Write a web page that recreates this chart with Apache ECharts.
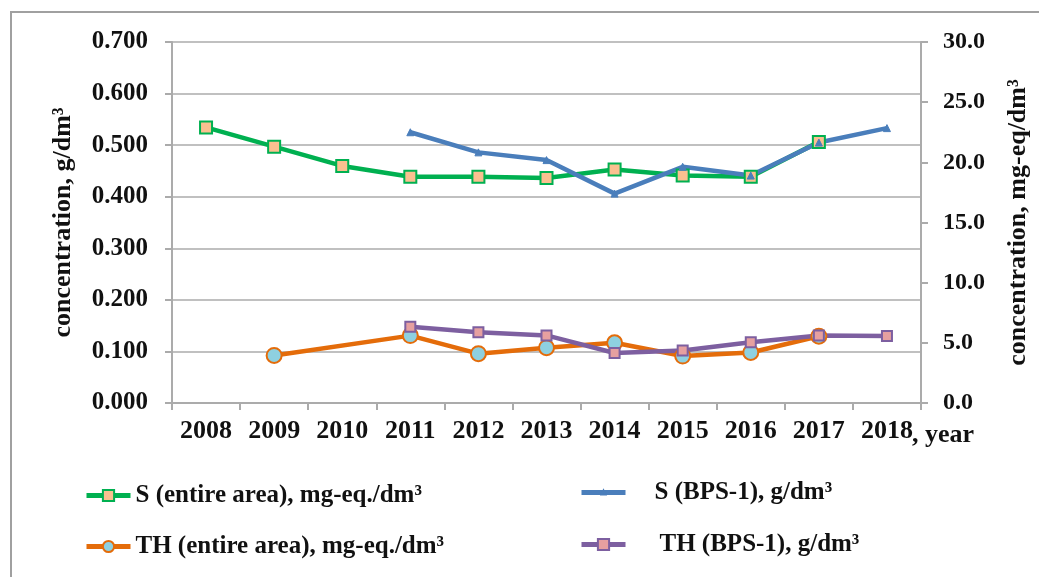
<!DOCTYPE html>
<html>
  <head>
    <meta charset="utf-8" />
    <style>
        body {margin: 0; background: #fff;}
        #chart {width: 1039px; height: 577px;}
    </style>
    <script src="https://cdn.jsdelivr.net/npm/echarts@6/dist/echarts.min.js"></script>
  </head>
  <body>
    <div id="chart"></div>

    <script type="text/javascript">
         var years = ['2008', '2009', '2010', '2011', '2012', '2013', '2014', '2015', '2016', '2017', '2018'];
         // entire area, mg-eq./dm3 (right axis)
         var sEntire  = [22.9, 21.3, 19.7, 18.8, 18.8, 18.7, 19.4, 18.9, 18.8, 21.7, null];
         var thEntire = [null, 3.95, null, 5.6, 4.1, 4.6, 5.0, 3.9, 4.2, 5.55, null];
         // BPS-1, g/dm3 (left axis)
         var sBps  = [null, null, null, 0.525, 0.486, 0.471, 0.406, 0.458, 0.441, 0.505, 0.533];
         var thBps = [null, null, null, 0.148, 0.137, 0.131, 0.097, 0.102, 0.118, 0.131, 0.130];

         var serif = '"Liberation Serif", "DejaVu Serif", serif';
         var gridGray = '#ABABAB';

         var chart = echarts.init(document.getElementById('chart'));

         function legendAt(name, left, top, gap, iconH) {
            return {
              data: [name],
              left: left, top: top,
              padding: 0,
              itemWidth: 44, itemHeight: iconH,
              lineStyle: {width: 5},
              textStyle: {fontFamily: serif, fontWeight: 'bold', fontSize: 25, color: '#111', padding: [0, 0, 0, gap]}
            };
         }

         var option = {
           animation: false,
           graphic: [
             { type: 'rect', shape: {x: 11, y: 12, width: 1200, height: 800},
               style: {fill: 'none', stroke: '#A0A0A0', lineWidth: 2} },
             { type: 'text', left: 912, top: 422,
               style: {text: ', year', font: 'bold 26px ' + serif, fill: '#111'} }
           ],
           legend: [
             legendAt('S (entire area), mg-eq./dm³', 84, 483, 0, 14),
             legendAt('TH (entire area), mg-eq./dm³', 84, 534, 0, 14),
             legendAt('S (BPS-1), g/dm³', 579, 480, 24, 5),
             legendAt('TH (BPS-1), g/dm³', 579, 532, 29, 14)
           ],
           grid: {left: 172, right: 118, top: 42, bottom: 174},
           xAxis: {
             type: 'category',
             data: years,
             boundaryGap: true,
             axisLine: {lineStyle: {color: gridGray, width: 2}},
             axisTick: {show: true, length: 7, lineStyle: {color: gridGray, width: 2}},
             axisLabel: {fontFamily: serif, fontWeight: 'bold', fontSize: 26, color: '#111', margin: 15}
           },
           yAxis: [
             { type: 'value', min: 0, max: 0.7, interval: 0.1, position: 'left',
               name: 'concentration, g/dm³', nameLocation: 'middle', nameRotate: 90, nameGap: 96,
               nameTextStyle: {fontFamily: serif, fontWeight: 'bold', fontSize: 26, color: '#111'},
               axisLine: {show: true, lineStyle: {color: gridGray, width: 2}},
               axisTick: {show: true, length: 7, lineStyle: {color: gridGray, width: 2}},
               splitLine: {lineStyle: {color: gridGray, width: 1.5}},
               axisLabel: {fontFamily: serif, fontWeight: 'bold', fontSize: 25, color: '#111', margin: 24,
                           formatter: function (v) { return v.toFixed(3); }}
             },
             { type: 'value', min: 0, max: 30, interval: 5, position: 'right',
               name: 'concentration, mg-eq/dm³', nameLocation: 'middle', nameRotate: 90, nameGap: 84,
               nameTextStyle: {fontFamily: serif, fontWeight: 'bold', fontSize: 26, color: '#111'},
               axisLine: {show: true, lineStyle: {color: gridGray, width: 2}},
               axisTick: {show: true, length: 7, lineStyle: {color: gridGray, width: 2}},
               splitLine: {show: false},
               axisLabel: {fontFamily: serif, fontWeight: 'bold', fontSize: 24, color: '#111', margin: 22,
                           formatter: function (v) { return v.toFixed(1); }}
             }
           ],
           series: [
             { name: 'S (entire area), mg-eq./dm³', type: 'line', yAxisIndex: 1, data: sEntire,
               symbol: 'rect', symbolSize: 12,
               lineStyle: {color: '#00B050', width: 4.5},
               itemStyle: {color: '#FAC090', borderColor: '#00B050', borderWidth: 2}
             },
             { name: 'TH (entire area), mg-eq./dm³', type: 'line', yAxisIndex: 1, data: thEntire,
               connectNulls: true, symbol: 'circle', symbolSize: 15,
               lineStyle: {color: '#E46C0A', width: 4.5},
               itemStyle: {color: '#8ED0E0', borderColor: '#E46C0A', borderWidth: 2}
             },
             { name: 'S (BPS-1), g/dm³', type: 'line', yAxisIndex: 0, data: sBps,
               symbol: 'triangle', symbolSize: 7,
               lineStyle: {color: '#4A7EBB', width: 4.5},
               itemStyle: {color: '#4A7EBB', borderColor: '#4A7EBB', borderWidth: 1}
             },
             { name: 'TH (BPS-1), g/dm³', type: 'line', yAxisIndex: 0, data: thBps,
               symbol: 'rect', symbolSize: 10,
               lineStyle: {color: '#7D5FA0', width: 4.5},
               itemStyle: {color: '#E6A0A0', borderColor: '#7D5FA0', borderWidth: 2}
             }
           ]
         };

         chart.setOption(option);
    </script>
  </body>
</html>
